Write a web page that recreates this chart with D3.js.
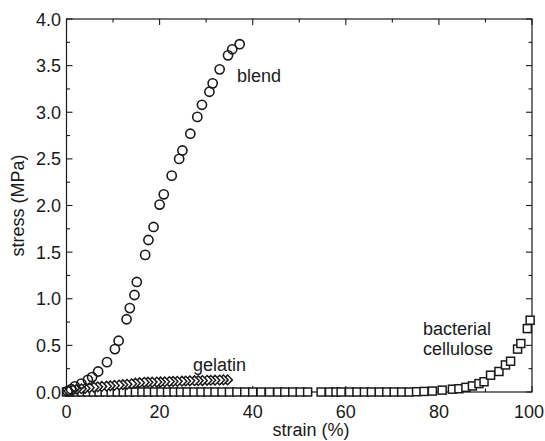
<!DOCTYPE html>
<html>
<head>
<meta charset="utf-8">
<script src="https://cdn.jsdelivr.net/npm/d3@7"></script>
<style>
  html, body { margin: 0; padding: 0; background: #fff; }
  svg { display: block; }
  text { font-family: "Liberation Sans", Arial, sans-serif; fill: #1a1a1a; }
</style>
</head>
<body>
<svg id="chart" width="545" height="441"></svg>
<script>
// Stress–strain curves of three films
const blendStrain = [0.2, 1.0, 1.8, 3.2, 4.6, 5.5, 6.8, 8.7, 10.4, 11.2, 12.9, 13.6, 14.6, 15.1, 16.9, 17.6, 18.7, 20.0, 20.9, 22.6, 24.2, 24.9, 26.6, 28.1, 29.1, 30.7, 31.4, 32.9, 34.7, 35.6, 37.2];
const blendStress = [0.01, 0.03, 0.06, 0.09, 0.13, 0.16, 0.22, 0.32, 0.46, 0.55, 0.78, 0.90, 1.04, 1.18, 1.47, 1.63, 1.77, 2.01, 2.12, 2.32, 2.50, 2.59, 2.77, 2.95, 3.08, 3.22, 3.31, 3.46, 3.61, 3.675, 3.73];

const gelatinStrain = [0.5, 1.4, 2.2, 3.2, 4.0, 4.9, 5.9, 6.7, 7.6, 8.6, 9.4, 10.3, 11.3, 12.1, 13.0, 14.0, 14.8, 15.7, 16.7, 17.5, 18.4, 19.4, 20.2, 21.1, 22.1, 22.9, 23.8, 24.8, 25.6, 26.5, 27.5, 28.3, 29.2, 30.2, 31.0, 31.9, 32.9, 33.7, 34.6];
const gelatinStress = [0.01, 0.02, 0.03, 0.035, 0.04, 0.045, 0.05, 0.055, 0.06, 0.062, 0.066, 0.07, 0.074, 0.078, 0.082, 0.088, 0.094, 0.10, 0.104, 0.105, 0.106, 0.107, 0.108, 0.11, 0.112, 0.113, 0.114, 0.116, 0.118, 0.12, 0.121, 0.122, 0.123, 0.125, 0.126, 0.127, 0.128, 0.13, 0.13];

const celluloseStrain = [0, 0.8, 2.0, 3.3, 4.5, 5.8, 7.0, 8.3, 9.6, 10.9, 12.2, 13.5, 14.8, 16.2, 17.5, 18.9, 20.3, 21.7, 23.1, 24.5, 25.9, 27.4, 28.9, 30.4, 31.9, 33.4, 35.0, 36.6, 38.3, 40.0, 41.8, 43.6, 45.4, 46.9, 48.6, 50.2, 51.8, 54.7, 56.5, 57.9, 59.0, 60.8, 62.4, 64.0, 65.5, 67.2, 68.8, 70.4, 72.0, 73.6, 75.2, 76.8, 78.6, 80.7, 82.9, 84.3, 85.8, 87.2, 88.6, 89.7, 91.1, 92.9, 94.3, 95.4, 96.9, 97.6, 99.0, 99.6];
const celluloseStress = [0, 0, 0, 0, 0, 0, 0, 0, 0, 0, 0, 0, 0, 0, 0, 0, 0, 0, 0, 0, 0, 0, 0, 0, 0, 0, 0, 0, 0, 0, 0, 0, 0, 0, 0, 0, 0, 0, 0, 0, 0, 0, 0, 0, 0, 0, 0, 0, 0, 0, 0.003, 0.006, 0.01, 0.02, 0.03, 0.035, 0.05, 0.065, 0.09, 0.11, 0.18, 0.22, 0.29, 0.33, 0.46, 0.52, 0.68, 0.77];

const xMajor = [0, 20, 40, 60, 80, 100];
const xMinor = [10, 30, 50, 70, 90];
const yMajor = [0.0, 0.5, 1.0, 1.5, 2.0, 2.5, 3.0, 3.5, 4.0];
const yMinor = [0.25, 0.75, 1.25, 1.75, 2.25, 2.75, 3.25, 3.75];

const svg = d3.select("#chart");
const box = { left: 66.5, right: 532, top: 19, bottom: 392 };
const x = d3.scaleLinear().domain([0, 100]).range([box.left, box.right]);
const y = d3.scaleLinear().domain([0, 4]).range([box.bottom, box.top]);
const ink = "#1a1a1a";

// frame
svg.append("rect")
  .attr("x", box.left).attr("y", box.top)
  .attr("width", box.right - box.left).attr("height", box.bottom - box.top)
  .attr("fill", "none").attr("stroke", ink).attr("stroke-width", 1.2);

// inward ticks on all four sides
const majorLen = 6, minorLen = 3.5;
const ticks = svg.append("g").attr("stroke", ink).attr("stroke-width", 1.1);
xMajor.concat(xMinor).forEach(v => {
  const len = xMajor.includes(v) ? majorLen : minorLen;
  ticks.append("line").attr("x1", x(v)).attr("x2", x(v)).attr("y1", box.bottom).attr("y2", box.bottom - len);
  ticks.append("line").attr("x1", x(v)).attr("x2", x(v)).attr("y1", box.top).attr("y2", box.top + len);
});
yMajor.concat(yMinor).forEach(v => {
  const len = yMajor.includes(v) ? majorLen : minorLen;
  ticks.append("line").attr("y1", y(v)).attr("y2", y(v)).attr("x1", box.left).attr("x2", box.left + len);
  ticks.append("line").attr("y1", y(v)).attr("y2", y(v)).attr("x1", box.right).attr("x2", box.right - len);
});

// tick labels (the last one is kept inside the page edge)
svg.append("g").selectAll("text").data(xMajor).join("text")
  .attr("x", d => d === 100 ? 544 : x(d)).attr("y", 418)
  .attr("text-anchor", d => d === 100 ? "end" : "middle").attr("font-size", 18)
  .text(d => d);
svg.append("g").selectAll("text").data(yMajor).join("text")
  .attr("x", 61).attr("y", d => y(d) + 6.5)
  .attr("text-anchor", "end").attr("font-size", 18)
  .text(d => d.toFixed(1));

// axis titles
svg.append("text").attr("x", 311).attr("y", 436)
  .attr("text-anchor", "middle").attr("font-size", 18).text("strain (%)");
svg.append("text")
  .attr("transform", `translate(24,${(box.top + box.bottom) / 2}) rotate(-90)`)
  .attr("text-anchor", "middle").attr("font-size", 18).text("stress (MPa)");

const plot = svg.append("g");

// bacterial cellulose: open squares
const sq = 8;
plot.append("g").selectAll("rect")
  .data(d3.zip(celluloseStrain, celluloseStress)).join("rect")
  .attr("x", d => x(d[0]) - sq / 2).attr("y", d => y(d[1]) - sq / 2)
  .attr("width", sq).attr("height", sq)
  .attr("fill", "#fff").attr("stroke", ink).attr("stroke-width", 1.5);

// gelatin: open diamonds, drawn right-to-left so each shows its right half
const dm = 4.8;
plot.append("g").selectAll("path")
  .data(d3.zip(gelatinStrain, gelatinStress).reverse()).join("path")
  .attr("d", d => {
    const cx = x(d[0]), cy = y(d[1]);
    return `M${cx - dm},${cy}L${cx},${cy - dm}L${cx + dm},${cy}L${cx},${cy + dm}Z`;
  })
  .attr("fill", "#fff").attr("stroke", ink).attr("stroke-width", 1.5);

// blend: open circles
plot.append("g").selectAll("circle")
  .data(d3.zip(blendStrain, blendStress)).join("circle")
  .attr("cx", d => x(d[0])).attr("cy", d => y(d[1])).attr("r", 4.6)
  .attr("fill", "none").attr("stroke", ink).attr("stroke-width", 1.6);

// series labels
const labels = [
  { t: "blend", x: 237, y: 82 },
  { t: "gelatin", x: 193, y: 371 },
  { t: "bacterial", x: 423, y: 335 },
  { t: "cellulose", x: 423, y: 355 }
];
svg.append("g").selectAll("text").data(labels).join("text")
  .attr("x", d => d.x).attr("y", d => d.y).attr("font-size", 18)
  .text(d => d.t);
</script>
</body>
</html>
